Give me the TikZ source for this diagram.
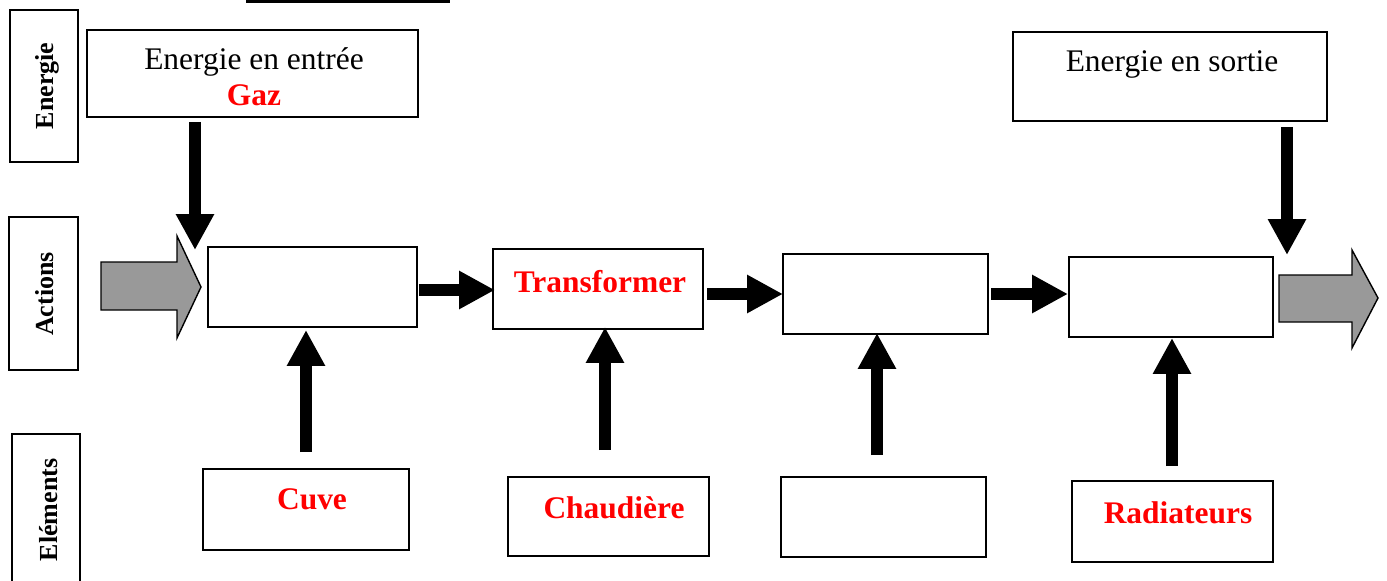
\documentclass[tikz,border=0pt]{standalone}
\usepackage{fontspec}
\setmainfont{Liberation Serif}
\usetikzlibrary{arrows.meta}
\definecolor{txtred}{RGB}{255,0,0}
\tikzset{
  box/.style 2 args={draw, line width=1.1pt, minimum width=#1*0.02cm, minimum height=#2*0.02cm, inner sep=0pt, outer sep=0pt},
  txt/.style={anchor=base, inner sep=0pt, font=\fontsize{17.9pt}{21pt}\selectfont},
  redtxt/.style={txt, text=txtred, font=\fontsize{17.9pt}{21pt}\selectfont\bfseries},
  side/.style={anchor=base, rotate=90, inner sep=0pt, font=\fontsize{14.8pt}{18pt}\selectfont\bfseries},
  bigarrow/.style={line width=6.8pt, -{Triangle[length=20.4pt,width=20.4pt]}},
  grayarrow/.style={draw, line width=0.8pt, fill=black!40, line join=miter}
}
\begin{document}
\begin{tikzpicture}[x=0.02cm,y=-0.02cm]
\clip (0,0) rectangle (1387,581);
\fill[white] (0,0) rectangle (1387,581);
% top bar (cut-off title underline)
\fill[black] (246,0) rectangle (450,3);
% side label boxes
\node[box={68}{152}] (lblE) at (44,86) {};
\node[box={69}{153}] (lblA) at (43.5,293.5) {};
\node[box={68}{166}] (lblEl) at (46,517) {};
\node[side] (tE) at (53,86) {Energie};
\node[side] (tA) at (53,294) {Actions};
\node[side] (tEl) at (57,510) {Eléments};
% energy boxes
\node[box={331}{87}] (entree) at (252.5,73.5) {};
\node[box={314}{89}] (sortie) at (1170,76.5) {};
\node[txt] (tentree) at (254,70) {Energie en entrée};
\node[redtxt] (tgaz) at (254,106) {Gaz};
\node[txt] (tsortie) at (1172,72) {Energie en sortie};
% action boxes
\node[box={209}{80}] (b1) at (312.5,287) {};
\node[box={210}{80}] (trans) at (598,289) {};
\node[box={205}{80}] (b3) at (885.5,294) {};
\node[box={204}{80}] (b4) at (1171,297) {};
\node[redtxt] (ttrans) at (600,292) {Transformer};
% element boxes
\node[box={206}{81}] (cuve) at (306,509.5) {};
\node[box={201}{79}] (chaud) at (608.5,516.5) {};
\node[box={205}{80}] (e3) at (883.5,517) {};
\node[box={201}{81}] (rad) at (1172.5,521.5) {};
\node[redtxt] (tcuve) at (312,509) {Cuve};
\node[redtxt] (tchaud) at (614,518) {Chaudière};
\node[redtxt] (trad) at (1178,523) {Radiateurs};
% gray block arrows
\draw[grayarrow] (101,262) -- (177,262) -- (177,236) -- (201,287) -- (177,338) -- (177,310) -- (101,310) -- cycle;
\draw[grayarrow] (1279,275) -- (1352,275) -- (1352,250) -- (1378,298) -- (1352,348) -- (1352,322) -- (1279,322) -- cycle;
% connector end points
\coordinate (d1s) at (195,122);
\coordinate (d1e) at (195,250);
\coordinate (d2s) at (1287,127);
\coordinate (d2e) at (1287,255);
\coordinate (u1s) at (306,452);
\coordinate (u1e) at (306,330);
\coordinate (u2s) at (605,450);
\coordinate (u2e) at (605,327);
\coordinate (u3s) at (877,455);
\coordinate (u3e) at (877,333);
\coordinate (u4s) at (1172,466);
\coordinate (u4e) at (1172,338);
% black arrows
\draw[bigarrow] (d1s) -- (d1e);
\draw[bigarrow] (d2s) -- (d2e);
\draw[bigarrow] ([xshift=2*0.02cm]b1.east |- 0,290) -- ([xshift=2*0.02cm]trans.west |- 0,290);
\draw[bigarrow] ([xshift=4*0.02cm]trans.east |- 0,294) -- (b3.west |- 0,294);
\draw[bigarrow] ([xshift=3*0.02cm]b3.east |- 0,294) -- ([xshift=-1*0.02cm]b4.west |- 0,294);
\draw[bigarrow] (u1s) -- (u1e);
\draw[bigarrow] (u2s) -- (u2e);
\draw[bigarrow] (u3s) -- (u3e);
\draw[bigarrow] (u4s) -- (u4e);
\end{tikzpicture}
\end{document}
